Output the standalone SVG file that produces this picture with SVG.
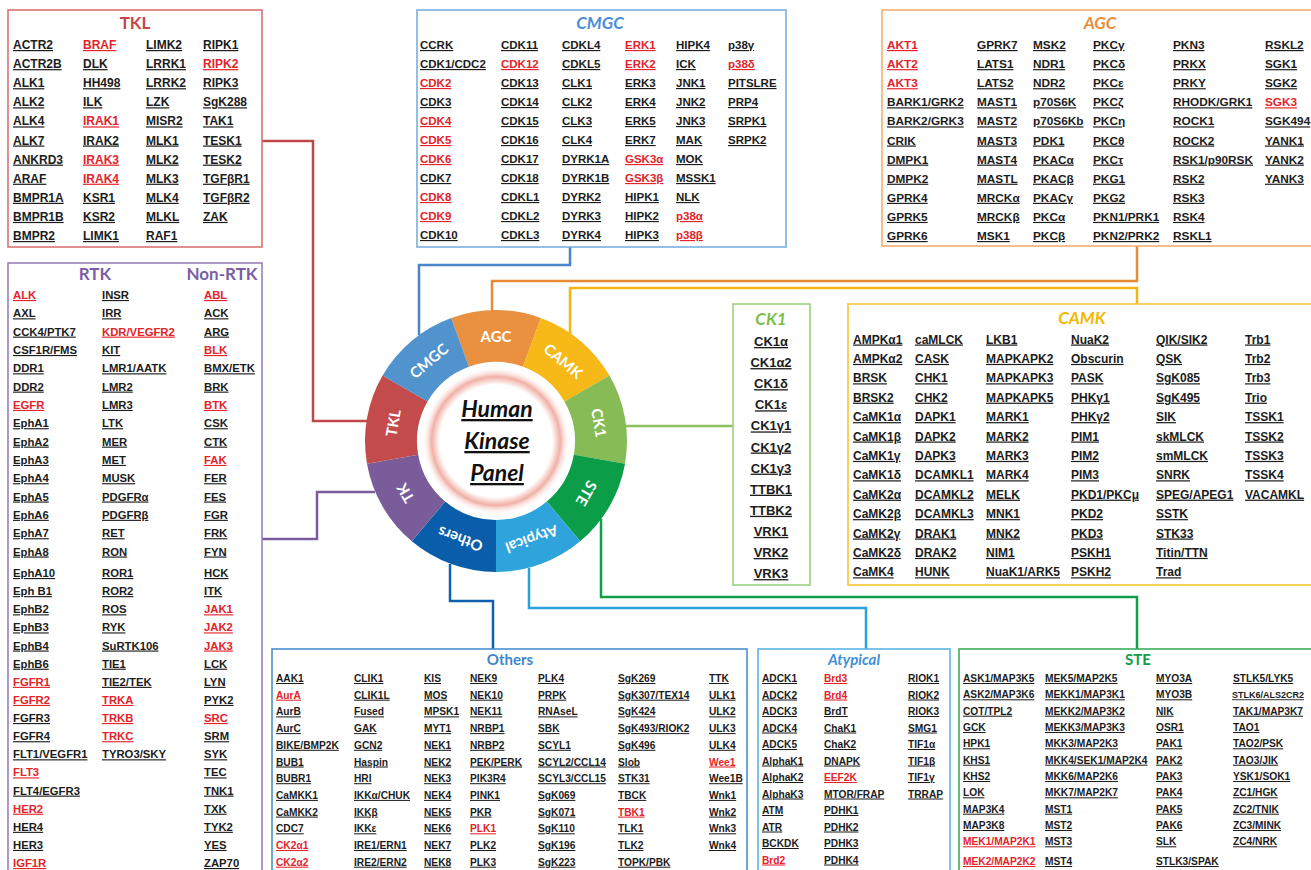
<svg xmlns="http://www.w3.org/2000/svg" xmlns:xlink="http://www.w3.org/1999/xlink" width="1311" height="870" viewBox="0 0 1311 870">
<style>
.box text{font-family:"Liberation Sans",Arial,sans-serif;font-weight:bold;fill:#1c1c1c;text-decoration:underline}
.box .r{fill:#e4232a}
.box .t{font-family:Lato,"DejaVu Sans",sans-serif;font-weight:bold;font-size:17px;text-anchor:middle;text-decoration:none}
.box .i{font-style:italic}
.box .c{text-anchor:middle}
.frame{fill:#fff;stroke-width:1.6}
#connectors path{fill:none;stroke-width:2.5}
.seg text{font-family:Lato,"DejaVu Sans",sans-serif;font-weight:bold;fill:#fff;font-size:15px;text-anchor:middle;dominant-baseline:central}
.ctr{font-family:Lato,"DejaVu Sans",sans-serif;font-weight:bold;font-style:italic;font-size:23px;text-anchor:middle;fill:#111;text-decoration:underline}
</style>
<defs>
<path id="seg" d="M451.20,317.90 A131,131 0 0 1 540.80,317.90 L523.02,366.76 A79,79 0 0 0 468.98,366.76 Z"/>
<radialGradient id="glow" cx="496" cy="441" r="74" gradientUnits="userSpaceOnUse">
<stop offset="0" stop-color="#fff"/>
<stop offset="0.76" stop-color="#fff"/>
<stop offset="0.87" stop-color="#f1b0a6"/>
<stop offset="1" stop-color="#fff" stop-opacity="0"/>
</radialGradient>
</defs>
<rect width="1311" height="870" fill="#fff"/>

<g id="connectors">
<path d="M262,141 H313 V421 H367" stroke="#c0484a"/>
<path d="M570,247 V265 H419 V335" stroke="#4a85c8"/>
<path d="M1137,246 V281 H492 V311" stroke="#ea8a35"/>
<path d="M1137,304 V288 H570 V334" stroke="#f5b614"/>
<path d="M733,426 H626" stroke="#8cc060"/>
<path d="M601,519 V597 H1137 V649" stroke="#10a048"/>
<path d="M529,568 V608 H866 V649" stroke="#2aa0dc"/>
<path d="M450,564 V601 H493 V649" stroke="#1060b0"/>
<path d="M375,492 H317 V539 H262" stroke="#7b5b9b"/>
</g>

<g id="wheel">
<g id="seg-agc" class="seg"><use xlink:href="#seg" fill="#ea9140"/><text x="496" y="336">AGC</text></g>
<g id="seg-camk" class="seg" transform="rotate(40 496 441)"><use xlink:href="#seg" fill="#f7b917"/><text x="496" y="336">CAMK</text></g>
<g id="seg-ck1" class="seg" transform="rotate(80 496 441)"><use xlink:href="#seg" fill="#86bb55"/><text x="496" y="336">CK1</text></g>
<g id="seg-ste" class="seg" transform="rotate(120 496 441)"><use xlink:href="#seg" fill="#0b9d47"/><text x="496" y="336">STE</text></g>
<g id="seg-atypical" class="seg" transform="rotate(160 496 441)"><use xlink:href="#seg" fill="#2fa4dc"/><text x="496" y="336">Atypical</text></g>
<g id="seg-others" class="seg" transform="rotate(200 496 441)"><use xlink:href="#seg" fill="#0a5ea9"/><text x="496" y="336">Others</text></g>
<g id="seg-tk" class="seg" transform="rotate(240 496 441)"><use xlink:href="#seg" fill="#7a5c9a"/><text x="496" y="336">TK</text></g>
<g id="seg-tkl" class="seg" transform="rotate(280 496 441)"><use xlink:href="#seg" fill="#c34b4b"/><text x="496" y="336">TKL</text></g>
<g id="seg-cmgc" class="seg" transform="rotate(320 496 441)"><use xlink:href="#seg" fill="#5193cc"/><text x="496" y="336">CMGC</text></g>
<g id="center">
<circle cx="496" cy="441" r="78" fill="#fff"/>
<circle cx="496" cy="441" r="74" fill="url(#glow)"/>
<text class="ctr" x="497" y="417">Human</text>
<text class="ctr" x="497" y="449">Kinase</text>
<text class="ctr" x="497" y="481">Panel</text>
</g>
</g>

<g id="tkl" class="box" font-size="12">
<rect class="frame" x="8" y="10" width="254" height="237" stroke="#d97272"/>
<text class="t" x="135" y="29" style="fill:#c94545">TKL</text>
<text x="13" y="49">ACTR2</text><text x="13" y="68.1">ACTR2B</text><text x="13" y="87.2">ALK1</text><text x="13" y="106.3">ALK2</text><text x="13" y="125.4">ALK4</text><text x="13" y="144.5">ALK7</text><text x="13" y="163.6">ANKRD3</text><text x="13" y="182.7">ARAF</text><text x="13" y="201.8">BMPR1A</text><text x="13" y="220.9">BMPR1B</text><text x="13" y="240">BMPR2</text>
<text class="r" x="83" y="49">BRAF</text><text x="83" y="68.1">DLK</text><text x="83" y="87.2">HH498</text><text x="83" y="106.3">ILK</text><text class="r" x="83" y="125.4">IRAK1</text><text x="83" y="144.5">IRAK2</text><text class="r" x="83" y="163.6">IRAK3</text><text class="r" x="83" y="182.7">IRAK4</text><text x="83" y="201.8">KSR1</text><text x="83" y="220.9">KSR2</text><text x="83" y="240">LIMK1</text>
<text x="146" y="49">LIMK2</text><text x="146" y="68.1">LRRK1</text><text x="146" y="87.2">LRRK2</text><text x="146" y="106.3">LZK</text><text x="146" y="125.4">MISR2</text><text x="146" y="144.5">MLK1</text><text x="146" y="163.6">MLK2</text><text x="146" y="182.7">MLK3</text><text x="146" y="201.8">MLK4</text><text x="146" y="220.9">MLKL</text><text x="146" y="240">RAF1</text>
<text x="203" y="49">RIPK1</text><text class="r" x="203" y="68.1">RIPK2</text><text x="203" y="87.2">RIPK3</text><text x="203" y="106.3">SgK288</text><text x="203" y="125.4">TAK1</text><text x="203" y="144.5">TESK1</text><text x="203" y="163.6">TESK2</text><text x="203" y="182.7">TGFβR1</text><text x="203" y="201.8">TGFβR2</text><text x="203" y="220.9">ZAK</text>
</g>

<g id="cmgc" class="box" font-size="11.5">
<rect class="frame" x="417" y="10" width="369" height="237" stroke="#7aaee0"/>
<text class="t i" x="600" y="29" style="fill:#4a8fd6">CMGC</text>
<text x="420" y="49">CCRK</text><text x="420" y="68">CDK1/CDC2</text><text class="r" x="420" y="87">CDK2</text><text x="420" y="106">CDK3</text><text class="r" x="420" y="125">CDK4</text><text class="r" x="420" y="144">CDK5</text><text class="r" x="420" y="163">CDK6</text><text x="420" y="182">CDK7</text><text class="r" x="420" y="201">CDK8</text><text class="r" x="420" y="220">CDK9</text><text x="420" y="239">CDK10</text>
<text x="501" y="49">CDK11</text><text class="r" x="501" y="68">CDK12</text><text x="501" y="87">CDK13</text><text x="501" y="106">CDK14</text><text x="501" y="125">CDK15</text><text x="501" y="144">CDK16</text><text x="501" y="163">CDK17</text><text x="501" y="182">CDK18</text><text x="501" y="201">CDKL1</text><text x="501" y="220">CDKL2</text><text x="501" y="239">CDKL3</text>
<text x="562" y="49">CDKL4</text><text x="562" y="68">CDKL5</text><text x="562" y="87">CLK1</text><text x="562" y="106">CLK2</text><text x="562" y="125">CLK3</text><text x="562" y="144">CLK4</text><text x="562" y="163">DYRK1A</text><text x="562" y="182">DYRK1B</text><text x="562" y="201">DYRK2</text><text x="562" y="220">DYRK3</text><text x="562" y="239">DYRK4</text>
<text class="r" x="625" y="49">ERK1</text><text class="r" x="625" y="68">ERK2</text><text x="625" y="87">ERK3</text><text x="625" y="106">ERK4</text><text x="625" y="125">ERK5</text><text x="625" y="144">ERK7</text><text class="r" x="625" y="163">GSK3α</text><text class="r" x="625" y="182">GSK3β</text><text x="625" y="201">HIPK1</text><text x="625" y="220">HIPK2</text><text x="625" y="239">HIPK3</text>
<text x="676" y="49">HIPK4</text><text x="676" y="68">ICK</text><text x="676" y="87">JNK1</text><text x="676" y="106">JNK2</text><text x="676" y="125">JNK3</text><text x="676" y="144">MAK</text><text x="676" y="163">MOK</text><text x="676" y="182">MSSK1</text><text x="676" y="201">NLK</text><text class="r" x="676" y="220">p38α</text><text class="r" x="676" y="239">p38β</text>
<text x="728" y="49">p38γ</text><text class="r" x="728" y="68">p38δ</text><text x="728" y="87">PITSLRE</text><text x="728" y="106">PRP4</text><text x="728" y="125">SRPK1</text><text x="728" y="144">SRPK2</text>
</g>

<g id="agc" class="box" font-size="11.8">
<rect class="frame" x="882" y="10" width="440" height="236" stroke="#f4b070"/>
<text class="t i" x="1100" y="29" style="fill:#ec8c3a">AGC</text>
<text class="r" x="887" y="49">AKT1</text><text class="r" x="887" y="68.1">AKT2</text><text class="r" x="887" y="87.2">AKT3</text><text x="887" y="106.3">BARK1/GRK2</text><text x="887" y="125.4">BARK2/GRK3</text><text x="887" y="144.5">CRIK</text><text x="887" y="163.6">DMPK1</text><text x="887" y="182.7">DMPK2</text><text x="887" y="201.8">GPRK4</text><text x="887" y="220.9">GPRK5</text><text x="887" y="240">GPRK6</text>
<text x="977" y="49">GPRK7</text><text x="977" y="68.1">LATS1</text><text x="977" y="87.2">LATS2</text><text x="977" y="106.3">MAST1</text><text x="977" y="125.4">MAST2</text><text x="977" y="144.5">MAST3</text><text x="977" y="163.6">MAST4</text><text x="977" y="182.7">MASTL</text><text x="977" y="201.8">MRCKα</text><text x="977" y="220.9">MRCKβ</text><text x="977" y="240">MSK1</text>
<text x="1033" y="49">MSK2</text><text x="1033" y="68.1">NDR1</text><text x="1033" y="87.2">NDR2</text><text x="1033" y="106.3">p70S6K</text><text x="1033" y="125.4">p70S6Kb</text><text x="1033" y="144.5">PDK1</text><text x="1033" y="163.6">PKACα</text><text x="1033" y="182.7">PKACβ</text><text x="1033" y="201.8">PKACγ</text><text x="1033" y="220.9">PKCα</text><text x="1033" y="240">PKCβ</text>
<text x="1093" y="49">PKCγ</text><text x="1093" y="68.1">PKCδ</text><text x="1093" y="87.2">PKCε</text><text x="1093" y="106.3">PKCζ</text><text x="1093" y="125.4">PKCη</text><text x="1093" y="144.5">PKCθ</text><text x="1093" y="163.6">PKCτ</text><text x="1093" y="182.7">PKG1</text><text x="1093" y="201.8">PKG2</text><text x="1093" y="220.9">PKN1/PRK1</text><text x="1093" y="240">PKN2/PRK2</text>
<text x="1173" y="49">PKN3</text><text x="1173" y="68.1">PRKX</text><text x="1173" y="87.2">PRKY</text><text x="1173" y="106.3">RHODK/GRK1</text><text x="1173" y="125.4">ROCK1</text><text x="1173" y="144.5">ROCK2</text><text x="1173" y="163.6">RSK1/p90RSK</text><text x="1173" y="182.7">RSK2</text><text x="1173" y="201.8">RSK3</text><text x="1173" y="220.9">RSK4</text><text x="1173" y="240">RSKL1</text>
<text x="1265" y="49">RSKL2</text><text x="1265" y="68.1">SGK1</text><text x="1265" y="87.2">SGK2</text><text class="r" x="1265" y="106.3">SGK3</text><text x="1265" y="125.4">SGK494</text><text x="1265" y="144.5">YANK1</text><text x="1265" y="163.6">YANK2</text><text x="1265" y="182.7">YANK3</text>
</g>

<g id="tk" class="box" font-size="11.3">
<rect class="frame" x="8" y="263" width="254" height="630" stroke="#9a80c0"/>
<text class="t" x="95" y="280" style="fill:#7b5ea7">RTK</text>
<text class="t" x="222" y="280" style="fill:#7b5ea7">Non-RTK</text>
<text class="r" x="13" y="299">ALK</text><text x="13" y="317.3">AXL</text><text x="13" y="335.6">CCK4/PTK7</text><text x="13" y="354">CSF1R/FMS</text><text x="13" y="372.3">DDR1</text><text x="13" y="390.6">DDR2</text><text class="r" x="13" y="408.9">EGFR</text><text x="13" y="427.2">EphA1</text><text x="13" y="445.6">EphA2</text><text x="13" y="463.9">EphA3</text><text x="13" y="482.2">EphA4</text><text x="13" y="500.5">EphA5</text><text x="13" y="518.8">EphA6</text><text x="13" y="537.2">EphA7</text><text x="13" y="555.5">EphA8</text>
<text x="13" y="577">EphA10</text><text x="13" y="595.1">Eph B1</text><text x="13" y="613.3">EphB2</text><text x="13" y="631.4">EphB3</text><text x="13" y="649.5">EphB4</text><text x="13" y="667.7">EphB6</text><text class="r" x="13" y="685.8">FGFR1</text><text class="r" x="13" y="703.9">FGFR2</text><text x="13" y="722">FGFR3</text><text x="13" y="740.2">FGFR4</text><text x="13" y="758.3">FLT1/VEGFR1</text><text class="r" x="13" y="776.4">FLT3</text><text x="13" y="794.6">FLT4/EGFR3</text><text class="r" x="13" y="812.7">HER2</text><text x="13" y="830.8">HER4</text><text x="13" y="848.9">HER3</text><text class="r" x="13" y="867">IGF1R</text>
<text x="102" y="299">INSR</text><text x="102" y="317.3">IRR</text><text class="r" x="102" y="335.6">KDR/VEGFR2</text><text x="102" y="354">KIT</text><text x="102" y="372.3">LMR1/AATK</text><text x="102" y="390.6">LMR2</text><text x="102" y="408.9">LMR3</text><text x="102" y="427.2">LTK</text><text x="102" y="445.6">MER</text><text x="102" y="463.9">MET</text><text x="102" y="482.2">MUSK</text><text x="102" y="500.5">PDGFRα</text><text x="102" y="518.8">PDGFRβ</text><text x="102" y="537.2">RET</text><text x="102" y="555.5">RON</text>
<text x="102" y="577">ROR1</text><text x="102" y="595.1">ROR2</text><text x="102" y="613.3">ROS</text><text x="102" y="631.4">RYK</text><text x="102" y="649.5">SuRTK106</text><text x="102" y="667.7">TIE1</text><text x="102" y="685.8">TIE2/TEK</text><text class="r" x="102" y="703.9">TRKA</text><text class="r" x="102" y="722">TRKB</text><text class="r" x="102" y="740.2">TRKC</text><text x="102" y="758.3">TYRO3/SKY</text>
<text class="r" x="204" y="299">ABL</text><text x="204" y="317.3">ACK</text><text x="204" y="335.6">ARG</text><text class="r" x="204" y="354">BLK</text><text x="204" y="372.3">BMX/ETK</text><text x="204" y="390.6">BRK</text><text class="r" x="204" y="408.9">BTK</text><text x="204" y="427.2">CSK</text><text x="204" y="445.6">CTK</text><text class="r" x="204" y="463.9">FAK</text><text x="204" y="482.2">FER</text><text x="204" y="500.5">FES</text><text x="204" y="518.8">FGR</text><text x="204" y="537.2">FRK</text><text x="204" y="555.5">FYN</text>
<text x="204" y="577">HCK</text><text x="204" y="595.1">ITK</text><text class="r" x="204" y="613.3">JAK1</text><text class="r" x="204" y="631.4">JAK2</text><text class="r" x="204" y="649.5">JAK3</text><text x="204" y="667.7">LCK</text><text x="204" y="685.8">LYN</text><text x="204" y="703.9">PYK2</text><text class="r" x="204" y="722">SRC</text><text x="204" y="740.2">SRM</text><text x="204" y="758.3">SYK</text><text x="204" y="776.4">TEC</text><text x="204" y="794.6">TNK1</text><text x="204" y="812.7">TXK</text><text x="204" y="830.8">TYK2</text><text x="204" y="848.9">YES</text><text x="204" y="867">ZAP70</text>
</g>

<g id="ck1" class="box" font-size="13">
<rect class="frame" x="733" y="304" width="77" height="281" stroke="#9bd080"/>
<text class="t i" x="771" y="325" style="fill:#7cbd4a">CK1</text>
<text class="c" x="771" y="346">CK1α</text><text class="c" x="771" y="367.1">CK1α2</text><text class="c" x="771" y="388.2">CK1δ</text><text class="c" x="771" y="409.3">CK1ε</text><text class="c" x="771" y="430.4">CK1γ1</text><text class="c" x="771" y="451.5">CK1γ2</text><text class="c" x="771" y="472.6">CK1γ3</text><text class="c" x="771" y="493.7">TTBK1</text><text class="c" x="771" y="514.8">TTBK2</text><text class="c" x="771" y="535.9">VRK1</text><text class="c" x="771" y="557">VRK2</text><text class="c" x="771" y="578.1">VRK3</text>
</g>

<g id="camk" class="box" font-size="12">
<rect class="frame" x="848" y="304" width="480" height="281" stroke="#f7c631"/>
<text class="t i" x="1082" y="324" style="fill:#f4b800">CAMK</text>
<text x="853" y="343.5">AMPKα1</text><text x="853" y="362.9">AMPKα2</text><text x="853" y="382.3">BRSK</text><text x="853" y="401.7">BRSK2</text><text x="853" y="421.1">CaMK1α</text><text x="853" y="440.5">CaMK1β</text><text x="853" y="459.9">CaMK1γ</text><text x="853" y="479.3">CaMK1δ</text><text x="853" y="498.7">CaMK2α</text><text x="853" y="518.1">CaMK2β</text><text x="853" y="537.5">CaMK2γ</text><text x="853" y="556.9">CaMK2δ</text><text x="853" y="576.3">CaMK4</text>
<text x="915" y="343.5">caMLCK</text><text x="915" y="362.9">CASK</text><text x="915" y="382.3">CHK1</text><text x="915" y="401.7">CHK2</text><text x="915" y="421.1">DAPK1</text><text x="915" y="440.5">DAPK2</text><text x="915" y="459.9">DAPK3</text><text x="915" y="479.3">DCAMKL1</text><text x="915" y="498.7">DCAMKL2</text><text x="915" y="518.1">DCAMKL3</text><text x="915" y="537.5">DRAK1</text><text x="915" y="556.9">DRAK2</text><text x="915" y="576.3">HUNK</text>
<text x="986" y="343.5">LKB1</text><text x="986" y="362.9">MAPKAPK2</text><text x="986" y="382.3">MAPKAPK3</text><text x="986" y="401.7">MAPKAPK5</text><text x="986" y="421.1">MARK1</text><text x="986" y="440.5">MARK2</text><text x="986" y="459.9">MARK3</text><text x="986" y="479.3">MARK4</text><text x="986" y="498.7">MELK</text><text x="986" y="518.1">MNK1</text><text x="986" y="537.5">MNK2</text><text x="986" y="556.9">NIM1</text><text x="986" y="576.3">NuaK1/ARK5</text>
<text x="1071" y="343.5">NuaK2</text><text x="1071" y="362.9">Obscurin</text><text x="1071" y="382.3">PASK</text><text x="1071" y="401.7">PHKγ1</text><text x="1071" y="421.1">PHKγ2</text><text x="1071" y="440.5">PIM1</text><text x="1071" y="459.9">PIM2</text><text x="1071" y="479.3">PIM3</text><text x="1071" y="498.7">PKD1/PKCμ</text><text x="1071" y="518.1">PKD2</text><text x="1071" y="537.5">PKD3</text><text x="1071" y="556.9">PSKH1</text><text x="1071" y="576.3">PSKH2</text>
<text x="1156" y="343.5">QIK/SIK2</text><text x="1156" y="362.9">QSK</text><text x="1156" y="382.3">SgK085</text><text x="1156" y="401.7">SgK495</text><text x="1156" y="421.1">SIK</text><text x="1156" y="440.5">skMLCK</text><text x="1156" y="459.9">smMLCK</text><text x="1156" y="479.3">SNRK</text><text x="1156" y="498.7">SPEG/APEG1</text><text x="1156" y="518.1">SSTK</text><text x="1156" y="537.5">STK33</text><text x="1156" y="556.9">Titin/TTN</text><text x="1156" y="576.3">Trad</text>
<text x="1245" y="343.5">Trb1</text><text x="1245" y="362.9">Trb2</text><text x="1245" y="382.3">Trb3</text><text x="1245" y="401.7">Trio</text><text x="1245" y="421.1">TSSK1</text><text x="1245" y="440.5">TSSK2</text><text x="1245" y="459.9">TSSK3</text><text x="1245" y="479.3">TSSK4</text><text x="1245" y="498.7">VACAMKL</text>
</g>

<g id="others" class="box" font-size="10.2">
<rect class="frame" x="272" y="649" width="475" height="240" stroke="#4a8fd0"/>
<text class="t" x="510" y="665" style="fill:#3f86cf;font-size:15px">Others</text>
<text x="276" y="682">AAK1</text><text class="r" x="276" y="698.7">AurA</text><text x="276" y="715.4">AurB</text><text x="276" y="732.1">AurC</text><text x="276" y="748.8">BIKE/BMP2K</text><text x="276" y="765.5">BUB1</text><text x="276" y="782.2">BUBR1</text><text x="276" y="798.9">CaMKK1</text><text x="276" y="815.6">CaMKK2</text><text x="276" y="832.3">CDC7</text><text class="r" x="276" y="849">CK2α1</text><text class="r" x="276" y="865.7">CK2α2</text>
<text x="354" y="682">CLIK1</text><text x="354" y="698.7">CLIK1L</text><text x="354" y="715.4">Fused</text><text x="354" y="732.1">GAK</text><text x="354" y="748.8">GCN2</text><text x="354" y="765.5">Haspin</text><text x="354" y="782.2">HRI</text><text x="354" y="798.9">IKKα/CHUK</text><text x="354" y="815.6">IKKβ</text><text x="354" y="832.3">IKKε</text><text x="354" y="849">IRE1/ERN1</text><text x="354" y="865.7">IRE2/ERN2</text>
<text x="424" y="682">KIS</text><text x="424" y="698.7">MOS</text><text x="424" y="715.4">MPSK1</text><text x="424" y="732.1">MYT1</text><text x="424" y="748.8">NEK1</text><text x="424" y="765.5">NEK2</text><text x="424" y="782.2">NEK3</text><text x="424" y="798.9">NEK4</text><text x="424" y="815.6">NEK5</text><text x="424" y="832.3">NEK6</text><text x="424" y="849">NEK7</text><text x="424" y="865.7">NEK8</text>
<text x="470" y="682">NEK9</text><text x="470" y="698.7">NEK10</text><text x="470" y="715.4">NEK11</text><text x="470" y="732.1">NRBP1</text><text x="470" y="748.8">NRBP2</text><text x="470" y="765.5">PEK/PERK</text><text x="470" y="782.2">PIK3R4</text><text x="470" y="798.9">PINK1</text><text x="470" y="815.6">PKR</text><text class="r" x="470" y="832.3">PLK1</text><text x="470" y="849">PLK2</text><text x="470" y="865.7">PLK3</text>
<text x="538" y="682">PLK4</text><text x="538" y="698.7">PRPK</text><text x="538" y="715.4">RNAseL</text><text x="538" y="732.1">SBK</text><text x="538" y="748.8">SCYL1</text><text x="538" y="765.5">SCYL2/CCL14</text><text x="538" y="782.2">SCYL3/CCL15</text><text x="538" y="798.9">SgK069</text><text x="538" y="815.6">SgK071</text><text x="538" y="832.3">SgK110</text><text x="538" y="849">SgK196</text><text x="538" y="865.7">SgK223</text>
<text x="618" y="682">SgK269</text><text x="618" y="698.7">SgK307/TEX14</text><text x="618" y="715.4">SgK424</text><text x="618" y="732.1">SgK493/RIOK2</text><text x="618" y="748.8">SgK496</text><text x="618" y="765.5">Slob</text><text x="618" y="782.2">STK31</text><text x="618" y="798.9">TBCK</text><text class="r" x="618" y="815.6">TBK1</text><text x="618" y="832.3">TLK1</text><text x="618" y="849">TLK2</text><text x="618" y="865.7">TOPK/PBK</text>
<text x="709" y="682">TTK</text><text x="709" y="698.7">ULK1</text><text x="709" y="715.4">ULK2</text><text x="709" y="732.1">ULK3</text><text x="709" y="748.8">ULK4</text><text class="r" x="709" y="765.5">Wee1</text><text x="709" y="782.2">Wee1B</text><text x="709" y="798.9">Wnk1</text><text x="709" y="815.6">Wnk2</text><text x="709" y="832.3">Wnk3</text><text x="709" y="849">Wnk4</text>
</g>

<g id="atypical" class="box" font-size="10.2">
<rect class="frame" x="758" y="649" width="192" height="240" stroke="#5ab5e6"/>
<text class="t i" x="854" y="665" style="fill:#3f8fd8;font-size:15px">Atypical</text>
<text x="762" y="682">ADCK1</text><text x="762" y="698.5">ADCK2</text><text x="762" y="715">ADCK3</text><text x="762" y="731.5">ADCK4</text><text x="762" y="748">ADCK5</text><text x="762" y="764.5">AlphaK1</text><text x="762" y="781">AlphaK2</text><text x="762" y="797.5">AlphaK3</text><text x="762" y="814">ATM</text><text x="762" y="830.5">ATR</text><text x="762" y="847">BCKDK</text><text class="r" x="762" y="863.5">Brd2</text>
<text class="r" x="824" y="682">Brd3</text><text class="r" x="824" y="698.5">Brd4</text><text x="824" y="715">BrdT</text><text x="824" y="731.5">ChaK1</text><text x="824" y="748">ChaK2</text><text x="824" y="764.5">DNAPK</text><text class="r" x="824" y="781">EEF2K</text><text x="824" y="797.5">MTOR/FRAP</text><text x="824" y="814">PDHK1</text><text x="824" y="830.5">PDHK2</text><text x="824" y="847">PDHK3</text><text x="824" y="863.5">PDHK4</text>
<text x="908" y="682">RIOK1</text><text x="908" y="698.5">RIOK2</text><text x="908" y="715">RIOK3</text><text x="908" y="731.5">SMG1</text><text x="908" y="748">TIF1α</text><text x="908" y="764.5">TIF1β</text><text x="908" y="781">TIF1γ</text><text x="908" y="797.5">TRRAP</text>
</g>

<g id="ste" class="box" font-size="10.2">
<rect class="frame" x="959" y="649" width="370" height="240" stroke="#3aae5e"/>
<text class="t" x="1138" y="665" style="fill:#159c45;font-size:15px">STE</text>
<text x="963" y="682">ASK1/MAP3K5</text><text x="963" y="698.3">ASK2/MAP3K6</text><text x="963" y="714.7">COT/TPL2</text><text x="963" y="731">GCK</text><text x="963" y="747.3">HPK1</text><text x="963" y="763.7">KHS1</text><text x="963" y="780">KHS2</text><text x="963" y="796.3">LOK</text><text x="963" y="812.7">MAP3K4</text><text x="963" y="829">MAP3K8</text><text class="r" x="963" y="845.3">MEK1/MAP2K1</text><text class="r" x="963" y="865">MEK2/MAP2K2</text>
<text x="1045" y="682">MEK5/MAP2K5</text><text x="1045" y="698.3">MEKK1/MAP3K1</text><text x="1045" y="714.7">MEKK2/MAP3K2</text><text x="1045" y="731">MEKK3/MAP3K3</text><text x="1045" y="747.3">MKK3/MAP2K3</text><text x="1045" y="763.7">MKK4/SEK1/MAP2K4</text><text x="1045" y="780">MKK6/MAP2K6</text><text x="1045" y="796.3">MKK7/MAP2K7</text><text x="1045" y="812.7">MST1</text><text x="1045" y="829">MST2</text><text x="1045" y="845.3">MST3</text><text x="1045" y="865">MST4</text>
<text x="1156" y="682">MYO3A</text><text x="1156" y="698.3">MYO3B</text><text x="1156" y="714.7">NIK</text><text x="1156" y="731">OSR1</text><text x="1156" y="747.3">PAK1</text><text x="1156" y="763.7">PAK2</text><text x="1156" y="780">PAK3</text><text x="1156" y="796.3">PAK4</text><text x="1156" y="812.7">PAK5</text><text x="1156" y="829">PAK6</text><text x="1156" y="845.3">SLK</text><text x="1156" y="865">STLK3/SPAK</text>
<text x="1233" y="682">STLK5/LYK5</text><text x="1232" y="698.3" style="font-size:9px">STLK6/ALS2CR2</text><text x="1233" y="714.7">TAK1/MAP3K7</text><text x="1233" y="731">TAO1</text><text x="1233" y="747.3">TAO2/PSK</text><text x="1233" y="763.7">TAO3/JIK</text><text x="1233" y="780">YSK1/SOK1</text><text x="1233" y="796.3">ZC1/HGK</text><text x="1233" y="812.7">ZC2/TNIK</text><text x="1233" y="829">ZC3/MINK</text><text x="1233" y="845.3">ZC4/NRK</text>
</g>
</svg>
